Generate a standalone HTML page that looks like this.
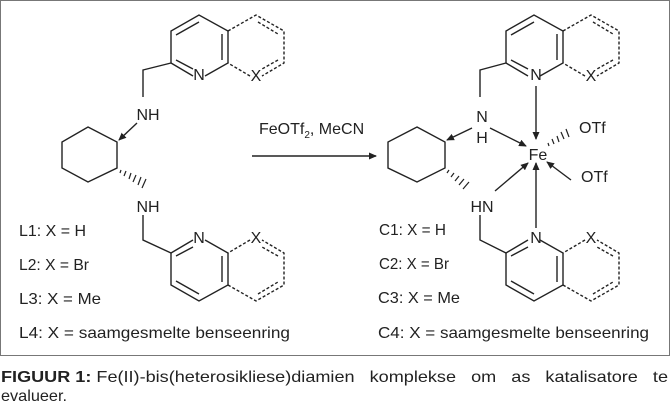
<!DOCTYPE html>
<html><head><meta charset="utf-8"><style>
html,body{margin:0;padding:0;background:#fff;}
svg{display:block;}
text{font-family:"Liberation Sans",sans-serif;fill:#222;}
</style></head><body>
<svg width="671" height="409" viewBox="0 0 671 409" xmlns="http://www.w3.org/2000/svg">
<defs>
<marker id="ah" markerWidth="8" markerHeight="8" refX="7" refY="4" orient="auto" markerUnits="userSpaceOnUse">
<path d="M0,0.5 L8,4 L0,7.5 Z" fill="#222"/></marker>
<g id="quin" stroke="#222" stroke-width="1.4" fill="none">
<path d="M171,63 L171,31 L199,15 L228,31 L228,63 L205,76"/>
<path d="M193,76 L171,63"/>
<path d="M176,35 L199,22"/>
<path d="M222,34 L222,60"/>
<path d="M193,69 L176,60"/>
<g stroke-dasharray="3,2">
<path d="M228,31 L256,15 L284,31 L284,63 L262,76"/>
<path d="M250,76 L228,63"/>
<path d="M258,22 L278,34"/>
<path d="M278,60 L262,69"/>
</g>
</g>
</defs>
<rect x="0.5" y="0.5" width="669" height="355" fill="none" stroke="#777" stroke-width="1"/>

<!-- LEFT -->
<use href="#quin"/>
<use href="#quin" transform="translate(0,316) scale(1,-1)"/>
<g stroke="#222" stroke-width="1.4" fill="none">
<path d="M171,63 L143,70 L143,97"/>
<path d="M88,127 L117,142 L117,168 L88,182 L62,168 L62,142 Z"/>
<path d="M137,123 L119,140" marker-end="url(#ah)"/>
<path d="M143,215 L143,240 L171,253"/>
<path d="M252,156 L376,156" marker-end="url(#ah)"/>
</g>
<g stroke="#222" stroke-width="1.2">
<path d="M121,170 L120,173 M126,171 L124,176 M131,173 L129,179 M136,175 L133,182 M141,177 L138,185 M146,179 L142,188"/>
</g>
<g font-size="16">
<text x="199" y="80" text-anchor="middle">N</text>
<text x="256" y="81" text-anchor="middle">X</text>
<text x="199" y="243" text-anchor="middle">N</text>
<text x="256" y="243" text-anchor="middle">X</text>
<text x="148" y="120" text-anchor="middle">NH</text>
<text x="148" y="212" text-anchor="middle">NH</text>
<text x="259" y="134">FeOTf<tspan font-size="10" dy="4">2</tspan><tspan dy="-4">, MeCN</tspan></text>
<text x="19" y="236" textLength="67" lengthAdjust="spacingAndGlyphs">L1: X = H</text>
<text x="19" y="270" textLength="70" lengthAdjust="spacingAndGlyphs">L2: X = Br</text>
<text x="19" y="304" textLength="82" lengthAdjust="spacingAndGlyphs">L3: X = Me</text>
<text x="19" y="338" textLength="271" lengthAdjust="spacingAndGlyphs">L4: X = saamgesmelte benseenring</text>
</g>

<!-- RIGHT -->
<g transform="translate(335,0)">
<use href="#quin"/>
<use href="#quin" transform="translate(0,316) scale(1,-1)"/>
</g>
<g stroke="#222" stroke-width="1.4" fill="none">
<path d="M506,63 L480,70 L480,97"/>
<path d="M417,127 L445,142 L445,168 L417,182 L388,168 L388,142 Z"/>
<path d="M472,128 L447,140" marker-end="url(#ah)"/>
<path d="M490,128 L526,146" marker-end="url(#ah)"/>
<path d="M536,86 L536,139" marker-end="url(#ah)"/>
<path d="M495,191 L528,163" marker-end="url(#ah)"/>
<path d="M536,228 L536,163" marker-end="url(#ah)"/>
<path d="M571,180 L547,162" marker-end="url(#ah)"/>
<path d="M480,215 L480,240 L506,253"/>
</g>
<g stroke="#222" stroke-width="1.2">
<path d="M449,170 L447,173 M454,173 L451,177 M459,176 L455,181 M464,179 L459,185 M469,182 L463,189"/>
<path d="M549,146 L548,143 M554,144 L552,139 M559,142 L557,136 M564,139 L561,132 M569,137 L566,129"/>
</g>
<g font-size="16">
<text x="536" y="80" text-anchor="middle">N</text>
<text x="591" y="81" text-anchor="middle">X</text>
<text x="536" y="243" text-anchor="middle">N</text>
<text x="591" y="243" text-anchor="middle">X</text>
<text x="482" y="122" text-anchor="middle">N</text>
<text x="482" y="143" text-anchor="middle">H</text>
<text x="538" y="160" text-anchor="middle">Fe</text>
<text x="579" y="133">OTf</text>
<text x="581" y="182">OTf</text>
<text x="482" y="212" text-anchor="middle">HN</text>
<text x="379" y="235" textLength="67" lengthAdjust="spacingAndGlyphs">C1: X = H</text>
<text x="379" y="269" textLength="70" lengthAdjust="spacingAndGlyphs">C2: X = Br</text>
<text x="378" y="303" textLength="82" lengthAdjust="spacingAndGlyphs">C3: X = Me</text>
<text x="378" y="338" textLength="271" lengthAdjust="spacingAndGlyphs">C4: X = saamgesmelte benseenring</text>
</g>

<!-- caption -->
<text x="1" y="382" font-size="16" textLength="667" lengthAdjust="spacingAndGlyphs" style="white-space:pre"><tspan font-weight="bold">FIGUUR 1:</tspan> Fe(II)-bis(heterosikliese)diamien   komplekse   om   as   katalisatore   te</text>
<text x="1" y="401" font-size="16" textLength="66" lengthAdjust="spacingAndGlyphs">evalueer.</text>
</svg>
</body></html>
